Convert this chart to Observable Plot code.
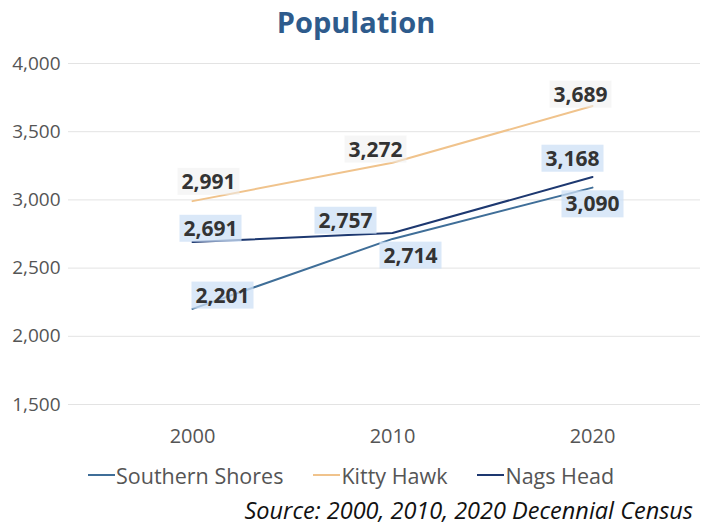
<!DOCTYPE html>
<html>
<head>
<meta charset="utf-8">
<script src="https://cdn.jsdelivr.net/npm/d3@7"></script>
<script src="https://cdn.jsdelivr.net/npm/@observablehq/plot@0.6"></script>
<style>
  body { margin: 0; background: #fff; font-family: "Open Sans", sans-serif; width: 712px; height: 527px; overflow: hidden; }
  #title { height: 44px; line-height: 44px; text-align: center; font-weight: 700; font-size: 29px; color: #2e5b8c; }
  #legend { display: flex; align-items: center; margin-left: 88px; margin-top: 6px; font-size: 21.5px; color: #555; height: 30px; }
  .item { display: flex; align-items: center; margin-right: 30px; }
  .sw { width: 27px; height: 2px; margin-right: 1px; }
  #caption { text-align: right; padding-right: 19px; font-style: italic; font-size: 23.5px; color: #111; margin-top: 4px; }
</style>
</head>
<body>
<div id="title">Population</div>
<div id="chart"></div>
<div id="legend"></div>
<div id="caption">Source: 2000, 2010, 2020 Decennial Census</div>
<script>
const years = [2000, 2010, 2020];
const seriesNames = ["Southern Shores", "Kitty Hawk", "Nags Head"];
const southernShores = [2201, 2714, 3090];
const kittyHawk = [2991, 3272, 3689];
const nagsHead = [2691, 2757, 3168];
const yTicks = [1500, 2000, 2500, 3000, 3500, 4000];

const colors = {"Southern Shores": "#3f6e98", "Kitty Hawk": "#f0c38c", "Nags Head": "#1d3870"};
const labelBg = {"Southern Shores": "rgba(205,224,245,0.75)", "Kitty Hawk": "rgba(238,238,238,0.55)", "Nags Head": "rgba(205,224,245,0.75)"};
// label placement offsets (px) per series, per year
const offsets = {
  "Southern Shores": [[30, -13], [18, 17], [0, 17]],
  "Kitty Hawk": [[16, -19], [-17, -13], [-12, -11]],
  "Nags Head": [[18, -13], [-47, -12], [-20, -18]]
};

const seriesValues = [southernShores, kittyHawk, nagsHead];
const data = [];
seriesNames.forEach((s, i) => years.forEach((yr, j) => data.push({series: s, year: yr, value: seriesValues[i][j], dx: offsets[s][j][0], dy: offsets[s][j][1]})));

const textMarks = data.map(d => Plot.text([d], {
  x: "year", y: "value", text: d => d3.format(",")(d.value),
  dx: d.dx, dy: d.dy, fontSize: 21, fontWeight: 700, fill: "#333",
  className: "lbl-" + d.series.replace(/\s/g, "")
}));

const plot = Plot.plot({
  width: 712,
  height: 410,
  marginTop: 19,
  marginBottom: 50,
  marginLeft: 68,
  marginRight: 12,
  style: {fontFamily: "Open Sans, sans-serif", fontSize: "20px", color: "#555", background: "transparent"},
  x: {domain: [1993.8, 2025.4], label: null},
  y: {domain: [1500, 4000], label: null},
  marks: [
    Plot.gridY(yTicks, {stroke: "#e3e3e3", strokeOpacity: 1, strokeWidth: 1}),
    Plot.axisY(yTicks, {tickSize: 0, tickPadding: 8, tickFormat: d3.format(","), fontSize: 19, fill: "#555"}),
    Plot.axisX(years, {tickSize: 0, tickPadding: 24, tickFormat: d => String(d), fontSize: 20, fill: "#555"}),
    Plot.line(data, {x: "year", y: "value", z: "series", stroke: d => colors[d.series], strokeWidth: 2}),
    ...textMarks
  ]
});
document.getElementById("chart").appendChild(plot);

// add background boxes behind labels
seriesNames.forEach(s => {
  const cls = "lbl-" + s.replace(/\s/g, "");
  plot.querySelectorAll("g." + cls + " text").forEach(t => {
    const b = t.getBBox();
    const ctm = t.getAttribute("transform");
    const r = document.createElementNS("http://www.w3.org/2000/svg", "rect");
    r.setAttribute("x", b.x - 4); r.setAttribute("y", b.y + 1);
    r.setAttribute("width", b.width + 8); r.setAttribute("height", b.height - 1);
    r.setAttribute("fill", labelBg[s]);
    if (ctm) r.setAttribute("transform", ctm);
    t.parentNode.insertBefore(r, t);
  });
});

const legend = document.getElementById("legend");
seriesNames.forEach(s => {
  const it = document.createElement("div"); it.className = "item";
  const sw = document.createElement("div"); sw.className = "sw"; sw.style.background = colors[s];
  const tx = document.createElement("span"); tx.textContent = s;
  it.appendChild(sw); it.appendChild(tx); legend.appendChild(it);
});
</script>
</body>
</html>
